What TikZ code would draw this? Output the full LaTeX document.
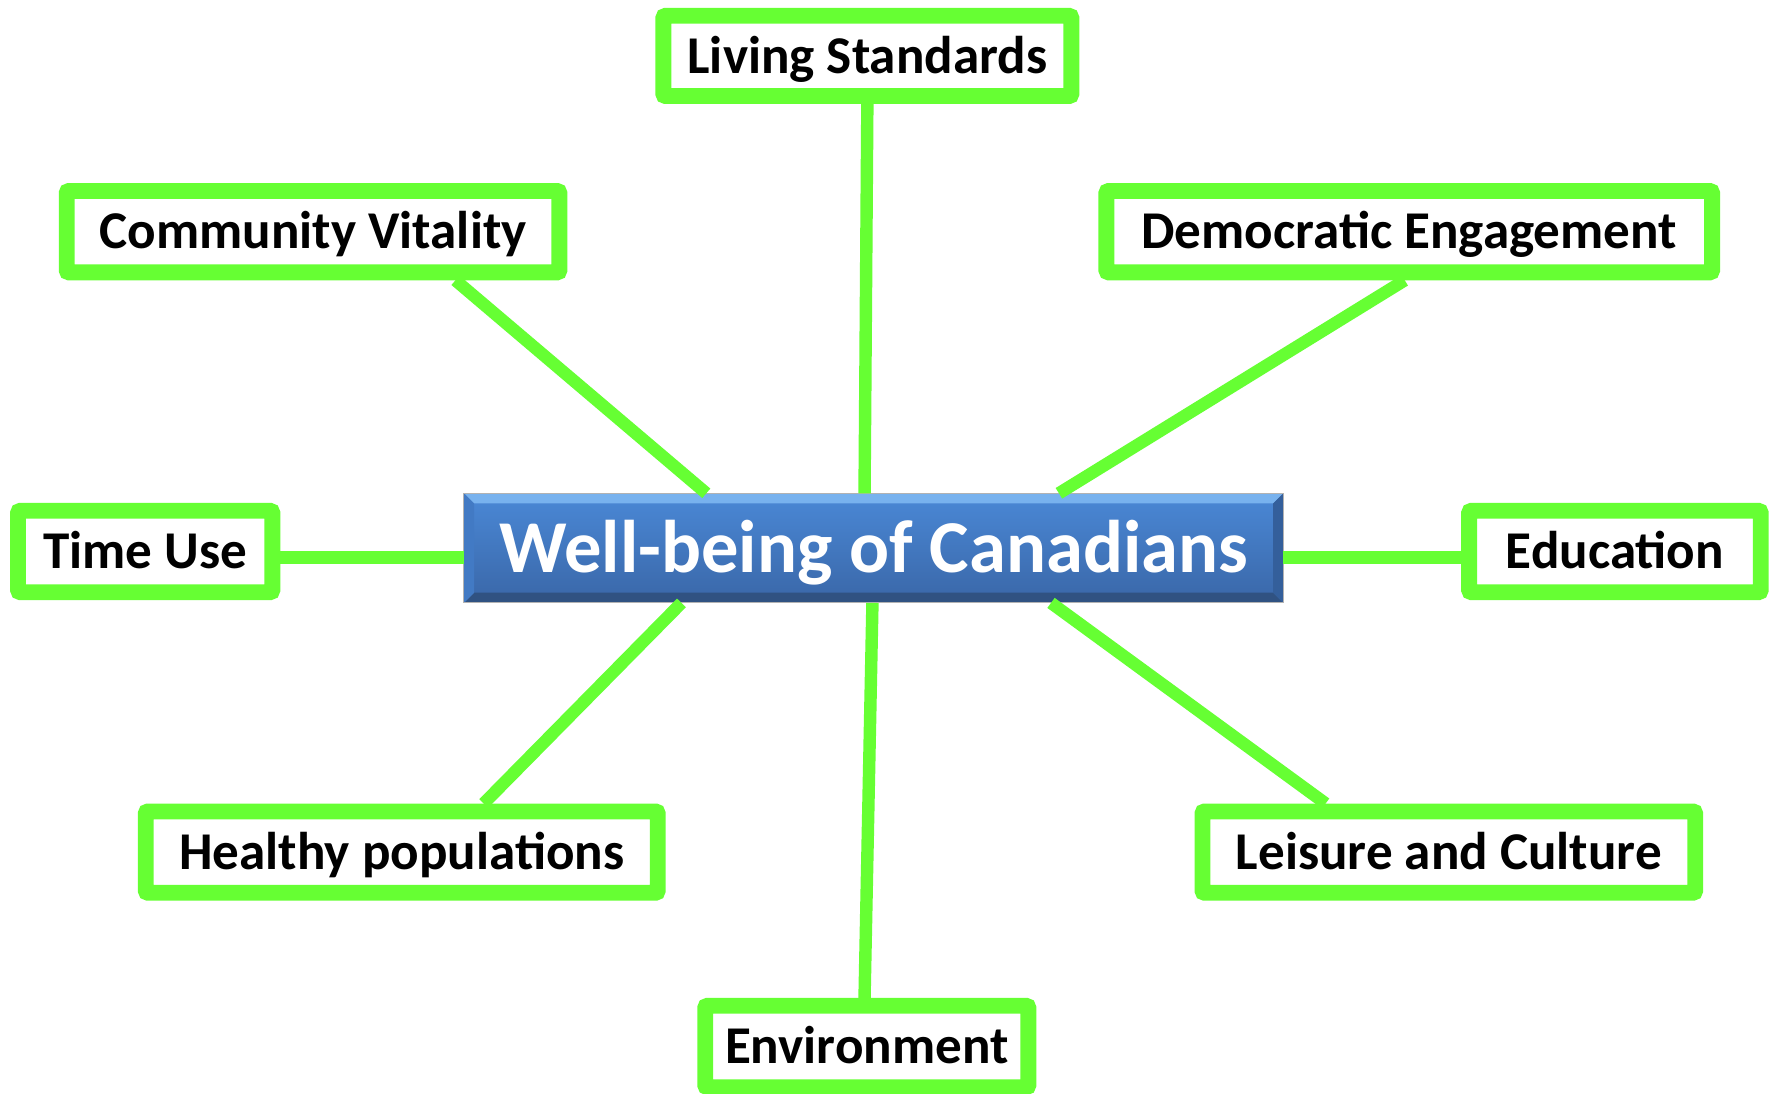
\documentclass[tikz,border=0pt]{standalone}
\usepackage{fontspec}
\setmainfont{Carlito}
\usetikzlibrary{calc}
\definecolor{lgreen}{RGB}{102,255,51}
\definecolor{btop}{RGB}{74,136,214}
\definecolor{bbot}{RGB}{58,103,168}
\definecolor{bevtop}{RGB}{120,178,238}
\definecolor{bevbot}{RGB}{48,82,130}
\definecolor{bevright}{RGB}{52,95,155}
\definecolor{bevleft}{RGB}{66,122,196}
\tikzset{
  topic/.style={draw=lgreen, line width=14pt, fill=white, rounded corners=2pt,
    inner sep=0pt, minimum height=72pt, text height=30.3pt, text depth=0pt,
    font=\fontsize{47}{56}\selectfont\bfseries, text=black},
  link/.style={draw=lgreen, line width=11pt},
  hub/.style={draw=gray!60, line width=1pt, inner sep=0pt, minimum width=724pt,
    minimum height=96pt, top color=btop, bottom color=bbot},
  hubtext/.style={text=white, font=\fontsize{66}{76}\selectfont\bfseries,
    text height=42.5pt, text depth=0pt, inner sep=0pt}
}
\begin{document}
\begin{tikzpicture}[x=1pt,y=-1pt]
\useasboundingbox (0,0) rectangle (1568,968);
\fill[white] (0,0) rectangle (1568,968);
% topic boxes
\node[topic, minimum width=361pt, minimum height=71pt] (ls) at (767.5,49.5) {Living Standards};
\node[topic, minimum width=436pt] (cv) at (277,205) {Community Vitality};
\node[topic, minimum width=536pt] (de) at (1247,205) {Democratic Engagement};
\node[topic, minimum width=225pt] (tu) at (128.5,488) {Time Use};
\node[topic, minimum width=258pt] (ed) at (1429,488) {Education};
\node[topic, minimum width=453pt] (hp) at (355.5,754) {Healthy populations};
\node[topic, minimum width=436pt] (lc) at (1282,754) {Leisure and Culture};
\node[topic, minimum width=286pt] (env) at (767,926) {Environment};
% hub
\node[hub] (c) at (773,485) {};
\fill[bevtop] (c.north west) -- (c.north east) -- ([shift={(-9,9)}]c.north east) -- ([shift={(9,9)}]c.north west) -- cycle;
\fill[bevbot] (c.south west) -- (c.south east) -- ([shift={(-9,-9)}]c.south east) -- ([shift={(9,-9)}]c.south west) -- cycle;
\fill[bevright] (c.north east) -- (c.south east) -- ([shift={(-9,-9)}]c.south east) -- ([shift={(-9,9)}]c.north east) -- cycle;
\fill[bevleft] (c.north west) -- (c.south west) -- ([shift={(9,-9)}]c.south west) -- ([shift={(9,9)}]c.north west) -- cycle;
\draw[gray!60, line width=1pt] (c.north west) rectangle (c.south east);
\node[hubtext] (ct) at (c.center) {Well-being of Canadians};
% connectors
\draw[link] (ls.south) -- ([xshift=-8pt]c.north);
\draw[link] ([xshift=126pt]cv.south) -- ([xshift=-148pt]c.north);
\draw[link] ([xshift=-4pt]de.south) -- ([xshift=164pt]c.north);
\draw[link] ([yshift=-5.5pt]tu.east) -- ([yshift=-5.5pt]tu.east -| c.west);
\draw[link] ([yshift=-5.5pt]ed.west -| c.east) -- ([yshift=-5.5pt]ed.west);
\draw[link] ([xshift=-170pt]c.south) -- ([xshift=72.5pt]hp.north);
\draw[link] ([xshift=-1pt]c.south) -- ([xshift=-2pt]env.north);
\draw[link] ([xshift=157pt]c.south) -- ([xshift=-109pt]lc.north);
\end{tikzpicture}
\end{document}
